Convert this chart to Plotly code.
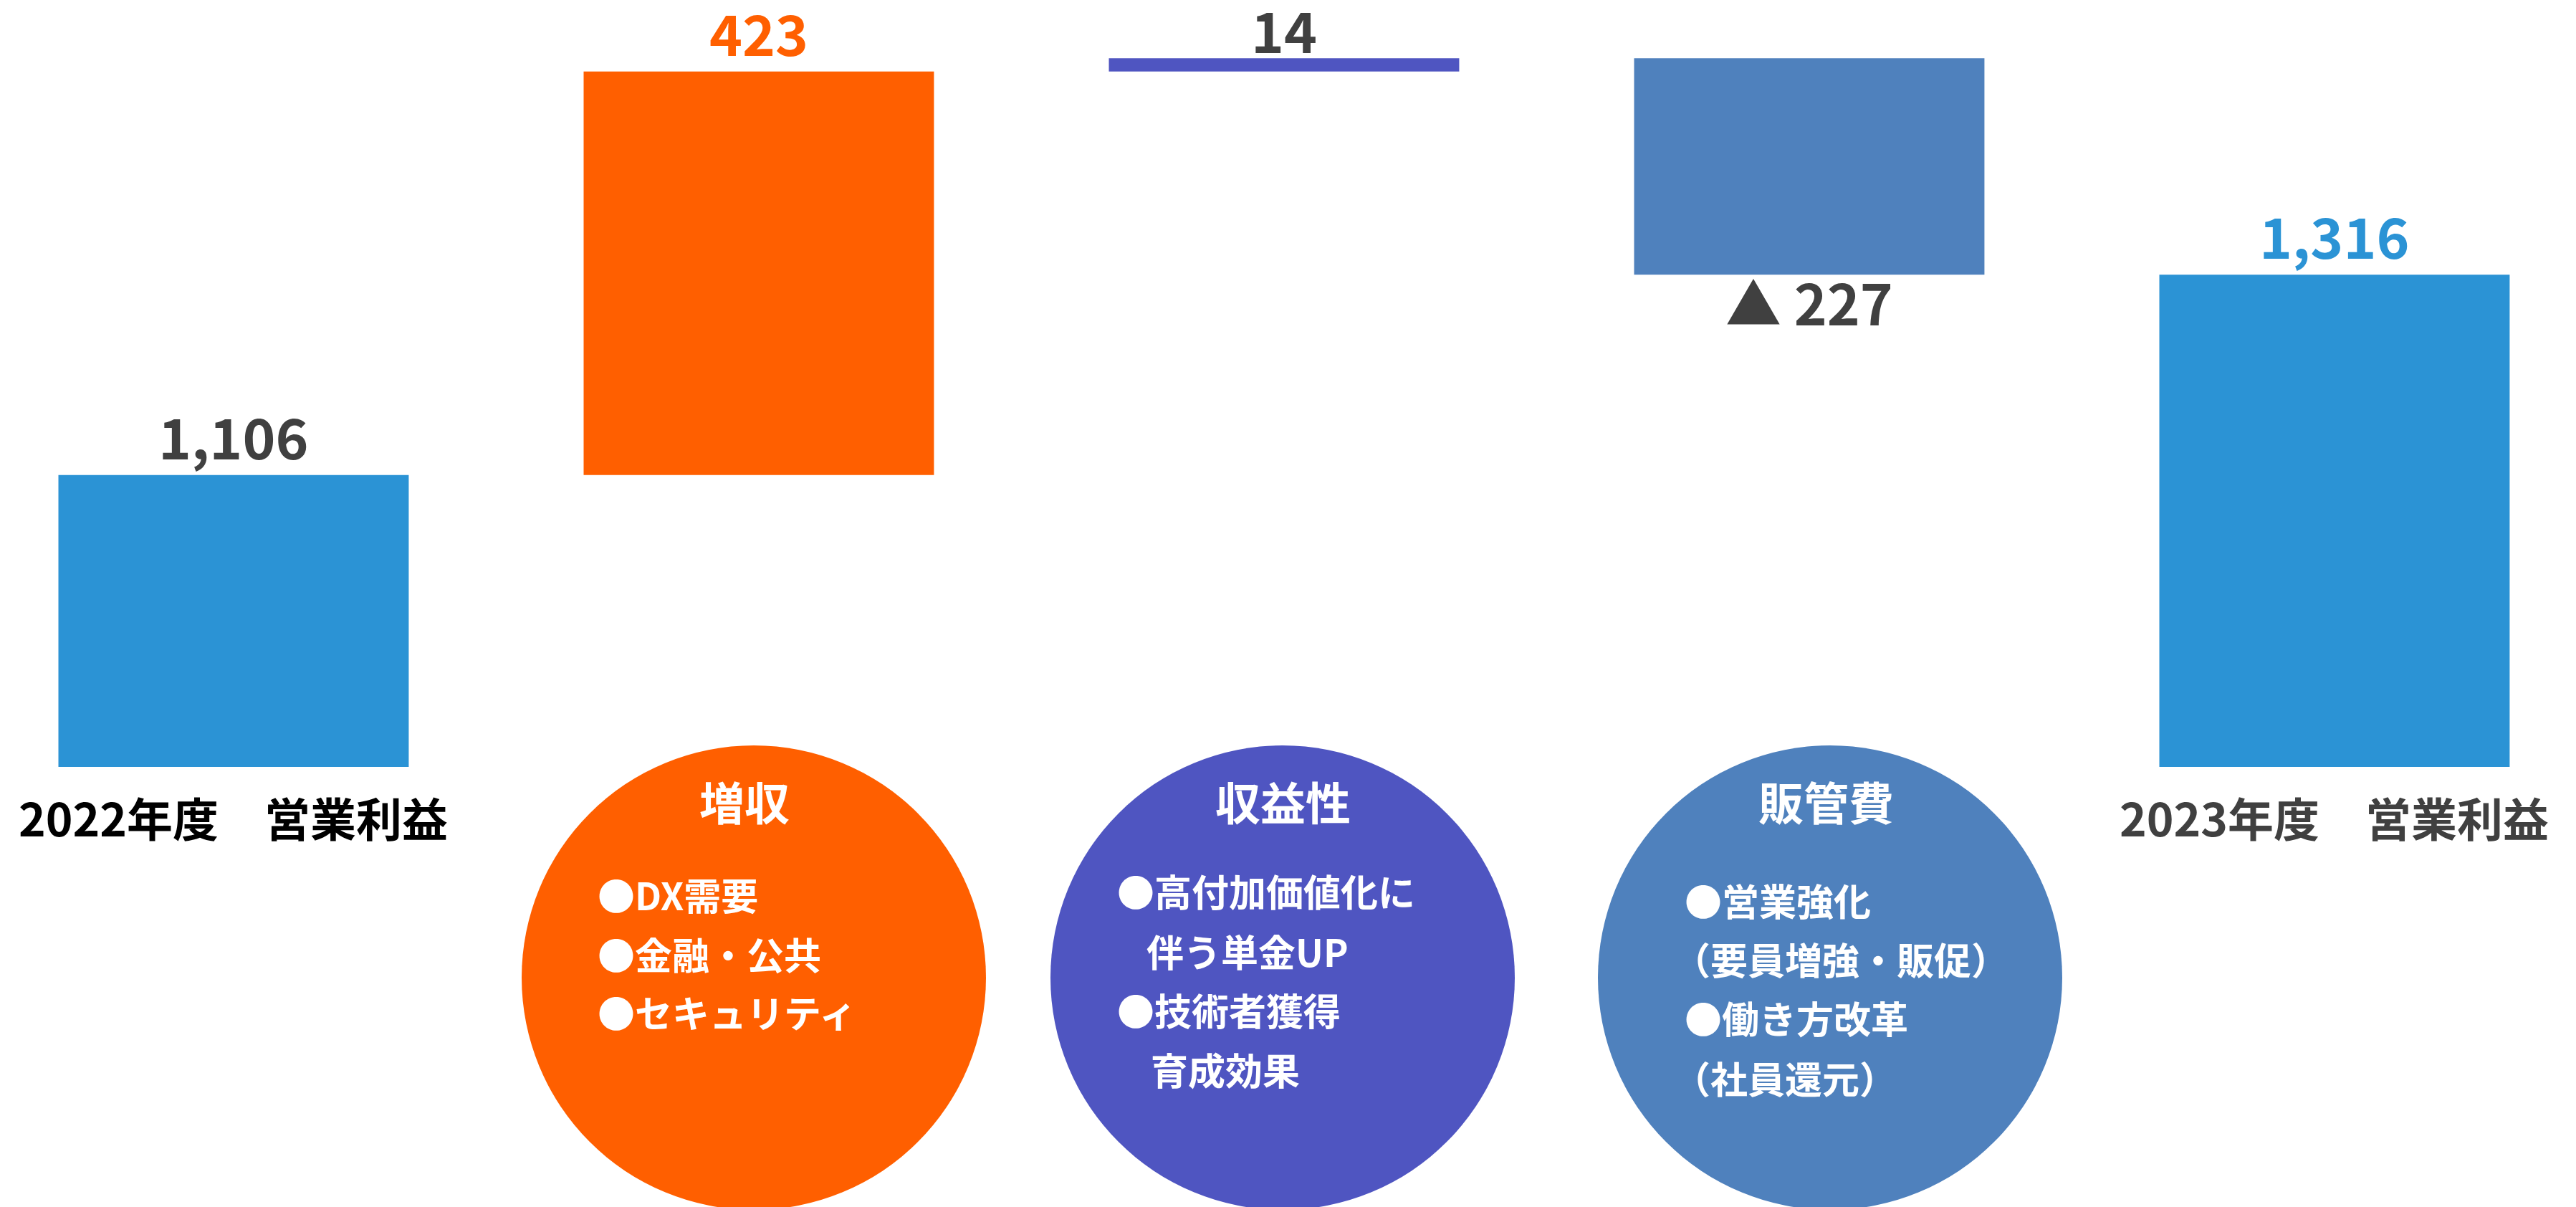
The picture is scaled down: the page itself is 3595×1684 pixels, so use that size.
import plotly.graph_objects as go

# ---------------- data ----------------
categories = ["2022年度 営業利益", "増収", "収益性", "販管費", "2023年度 営業利益"]
values = [1106, 423, 14, -227, 1316]
measures = ["absolute", "relative", "relative", "relative", "total"]
value_labels = ["1,106", "423", "14", "▲ 227", "1,316"]
bar_colors = ["#2B93D5", "#FF5F00", "#4F55C1", "#4F81BD", "#2B93D5"]
label_colors = ["#404040", "#FF5F00", "#404040", "#404040", "#2B93D5"]
axis_labels = ["2022年度　営業利益", "", "", "", "2023年度　営業利益"]
axis_label_colors = ["#000000", "#000000", "#000000", "#000000", "#404040"]

circle_titles = ["増収", "収益性", "販管費"]
circle_lines = [
    ["●DX需要", "●金融・公共", "●セキュリティ"],
    ["●高付加価値化に", "伴う単金UP", "●技術者獲得", "育成効果"],
    ["●営業強化", "（要員増強・販促）", "●働き方改革", "（社員還元）"],
]
circle_colors = ["#FF5F00", "#4F55C1", "#4F81BD"]

# ---------------- layout constants (pixels) ----------------
W, H = 3595, 1684
PLOT_BOTTOM = 1070
Y_MIN, Y_MAX = 800, 1604
FONT = "Noto Sans CJK JP"

label_shift = [56, 56, 41, -37, 56]   # px offset of value labels from bar end

circle_cx = [1052, 1790, 2554]
circle_r = 324
circle_top = 1040
title_cx = [1039, 1790, 2548]
title_cy = 1116
line_left = [
    [832, 832, 832],
    [1557, 1598, 1557, 1604],
    [2349, 2333, 2349, 2333],
]
line_cy = [
    [1247, 1330, 1411],
    [1242, 1326, 1408, 1491],
    [1255, 1337, 1419, 1503],
]

# ---------------- waterfall bases ----------------
bases, heights = [], []
running = 0
for v, m in zip(values, measures):
    if m == "absolute":
        bases.append(0)
        heights.append(v)
        running = v
    elif m == "relative":
        bases.append(running)
        heights.append(v)
        running += v
    else:
        bases.append(0)
        heights.append(v)
        running = v
ends = [b + h for b, h in zip(bases, heights)]

fig = go.Figure()
fig.add_trace(go.Bar(
    x=categories,
    y=heights,
    base=bases,
    marker=dict(color=bar_colors, line=dict(width=0)),
    hoverinfo="skip",
))

shapes = []
annotations = []

# value labels at the end of each bar
for cat, end, lab, col, sh in zip(categories, ends, value_labels, label_colors, label_shift):
    annotations.append(dict(
        x=cat, xref="x", y=end, yref="y",
        text=lab, showarrow=False, xanchor="center", yanchor="middle",
        yshift=sh,
        font=dict(family=FONT, size=78, color=col, weight=700),
    ))

# category labels under the two total bars
for cat, lab, col in zip(categories, axis_labels, axis_label_colors):
    if lab:
        annotations.append(dict(
            x=cat, xref="x", y=1 - 1139 / H, yref="paper",
            text=lab, showarrow=False, xanchor="center", yanchor="middle",
            font=dict(family=FONT, size=64, color=col, weight=700),
        ))

# circles with explanations
for i in range(3):
    cx = circle_cx[i]
    shapes.append(dict(
        type="circle", xref="paper", yref="paper",
        x0=(cx - circle_r) / W, x1=(cx + circle_r) / W,
        y0=1 - (circle_top + 2 * circle_r) / H, y1=1 - circle_top / H,
        fillcolor=circle_colors[i], line=dict(width=0), layer="below",
    ))
    annotations.append(dict(
        x=title_cx[i] / W, xref="paper", y=1 - title_cy / H, yref="paper",
        text=circle_titles[i], showarrow=False, xanchor="center", yanchor="middle",
        font=dict(family=FONT, size=63, color="white", weight=700),
    ))
    for txt, lx, cy in zip(circle_lines[i], line_left[i], line_cy[i]):
        annotations.append(dict(
            x=lx / W, xref="paper", y=1 - cy / H, yref="paper",
            text=txt, showarrow=False, xanchor="left", yanchor="middle",
            font=dict(family=FONT, size=52, color="white", weight=700),
        ))

fig.update_layout(
    width=W, height=H,
    margin=dict(l=0, r=0, t=0, b=0),
    paper_bgcolor="white", plot_bgcolor="white",
    showlegend=False,
    bargap=0.333,
    shapes=shapes,
    annotations=annotations,
    xaxis=dict(
        type="category", range=[-0.4447, 4.4598], domain=[0, 1],
        showticklabels=False, showgrid=False, zeroline=False, showline=False,
        ticks="",
    ),
    yaxis=dict(
        range=[Y_MIN, Y_MAX], domain=[1 - PLOT_BOTTOM / H, 1],
        showticklabels=False, showgrid=False, zeroline=False, showline=False,
        ticks="",
    ),
)

fig.write_html(
    "out.html",
    config={"displayModeBar": False},
    post_script="document.body.style.margin='0';",
)
